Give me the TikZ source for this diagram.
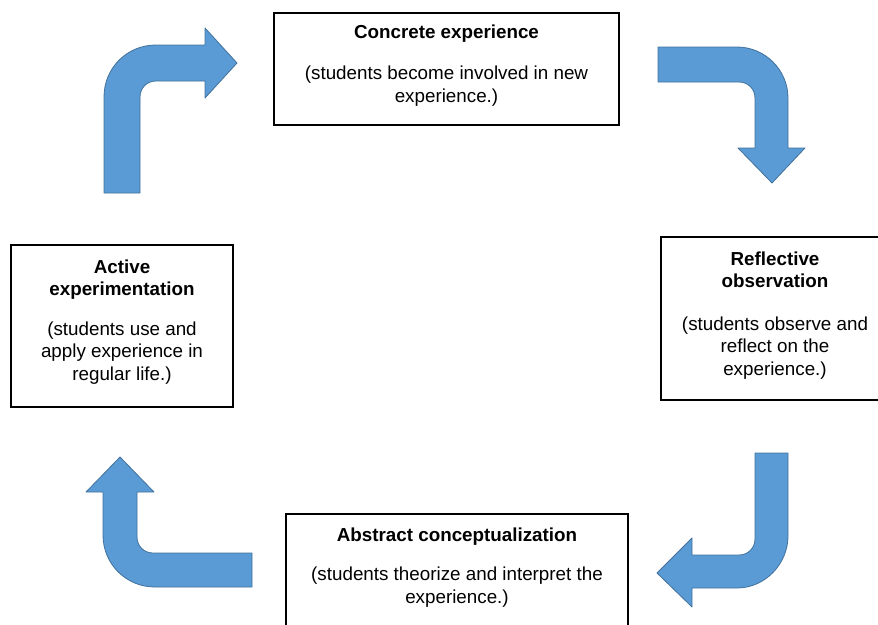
\documentclass[tikz,border=0pt]{standalone}
\usepackage{fontspec}
\setmainfont{Liberation Sans}
\definecolor{arrowblue}{RGB}{91,155,213}
\definecolor{arrowedge}{RGB}{65,113,156}

\begin{document}
\begin{tikzpicture}[x=1pt,y=-1pt,
  stagebox/.style={draw,line width=1.1pt,inner sep=0pt},
  heading/.style={align=center,font=\fontsize{18.8}{22.5}\selectfont\bfseries},
  body/.style={align=center,font=\fontsize{18.8}{22.8}\selectfont},
  bentarrow/.style={fill=arrowblue,draw=arrowedge,line width=0.8pt,line join=round}]
\useasboundingbox (0,0) rectangle (878,624);

% the four stages
\path (446.5,69) node (concrete) [stagebox,minimum width=345pt,minimum height=112pt] {};
\path (775,318.5) node (reflective) [stagebox,minimum width=228pt,minimum height=163pt] {};
\path (457,582) node (abstract) [stagebox,minimum width=342pt,minimum height=136pt] {};
\path (122,326) node (active) [stagebox,minimum width=222pt,minimum height=162pt] {};

\path (446.5,34) node (concretehead) [heading] {Concrete experience};
\path (446.5,86) node (concretetext) [body] {(students become involved in new\\experience.)};
\path (775,270) node (reflectivehead) [heading] {Reflective\\observation};
\path (775,348) node (reflectivetext) [body] {(students observe and\\reflect on the\\experience.)};
\path (457,537) node (abstracthead) [heading] {Abstract conceptualization};
\path (457,587) node (abstracttext) [body] {(students theorize and interpret the\\experience.)};
\path (122,279.5) node (activehead) [heading] {Active\\experimentation};
\path (122,353) node (activetext) [body] {(students use and\\apply experience in\\regular life.)};

% bent block arrows between the stages
\draw [bentarrow] (104,193) -- (104,97) .. controls (104,68) and (127,45) .. (156,45)
  -- (205,45) -- (205,28) -- (237,63) -- (205,98) -- (205,81) -- (156,81)
  .. controls (147,81) and (140,88) .. (140,97) -- (140,193) -- cycle;
\draw [bentarrow] (658,47) -- (737,47) .. controls (765,47) and (788,70) .. (788,98)
  -- (788,148) -- (805,148) -- (772,183) -- (738,148) -- (755,148) -- (755,98)
  .. controls (755,89) and (748,82) .. (739,82) -- (658,82) -- cycle;
\draw [bentarrow] (755,453) -- (788,453) -- (788,536) .. controls (788,564) and (765,588) .. (737,588)
  -- (692,588) -- (692,607) -- (657,573) -- (692,538) -- (692,555) -- (739,555)
  .. controls (748,555) and (755,548) .. (755,539) -- cycle;
\draw [bentarrow] (252,553) -- (252,587) -- (155,587) .. controls (126,587) and (103,564) .. (103,535)
  -- (103,492) -- (86,492) -- (120,457) -- (154,492) -- (137,492) -- (137,537)
  .. controls (137,546) and (144,553) .. (153,553) -- cycle;
\end{tikzpicture}
\end{document}
